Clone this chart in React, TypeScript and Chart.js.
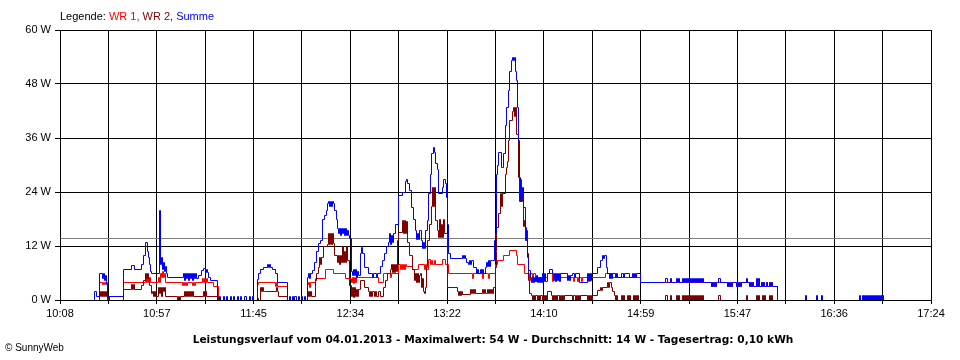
import React, { useEffect, useRef } from 'react';
import { Chart, registerables } from 'chart.js';

Chart.register(...registerables);

// Time axis: minutes after 10:00
const X_MIN = 8; // 10:08
const X_MAX = 444; // 17:24
const X_GRID_INTERVALS = 18;
const X_LABELS = ['10:08', '10:57', '11:45', '12:34', '13:22', '14:10', '14:59', '15:47', '16:36', '17:24'];
const Y_MAX = 60;
const Y_STEP = 12;
const AVERAGE_W = 13.7;

const LEGEND_PARTS: [string, string][] = [
  ['Legende: ', '#000000'],
  ['WR 1,', '#ff0000'],
  [' WR 2,', '#800000'],
  [' Summe', '#0000ff'],
];
const TITLE = 'Leistungsverlauf vom 04.01.2013 - Maximalwert: 54 W - Durchschnitt: 14 W - Tagesertrag: 0,10 kWh';
const COPYRIGHT = '\u00A9 SunnyWeb';

// [minute after 10:00, watts] change points (step series)
const SUMME: [number, number][] = [
  [24.5, 0], [25, 2], [26, 1], [27.5, 6], [29, 5], [29.5, 6], [30, 4.5], [30.5, 5.5], [31, 3.5], [31.5, 1],
  [39.5, 7], [43.5, 7.8], [45, 7], [48.5, 8], [49.5, 10], [50.5, 13], [51.5, 11], [52, 9.5], [52.5, 8], [53, 6.5], [53.5, 6],
  [57.5, 20], [58, 8], [58.5, 9.5], [59, 7], [59.5, 8.5], [60, 6.5], [60.5, 7.5], [61, 6], [61.5, 5.2],
  [69.5, 6], [70, 4.5], [70.5, 6], [71, 5], [71.5, 6], [72, 4.5], [72.5, 6], [73, 5], [73.5, 6], [74, 4.5], [74.5, 6], [75, 5], [75.5, 6], [76, 5],
  [77, 5.5], [78.5, 6.7], [79.5, 7.2], [80.5, 6.2], [81, 7], [81.5, 6.2], [82, 5.2], [83, 4.4],
  [86.5, 0], [87.5, 0.8], [88, 0], [89.5, 0.8], [90, 0], [91, 0.8], [91.5, 0], [93, 0.8], [93.5, 0], [94.5, 0.8], [95, 0], [96.5, 0.8], [97, 0], [98, 0.8], [98.5, 0], [100, 0.8], [101, 0], [102.5, 0.8], [103, 0], [104, 0.8], [104.5, 0],
  [106.5, 4.6], [107, 5.9], [108, 6.9], [109.5, 7.3], [111.5, 8], [112, 7.3], [112.5, 8], [113, 7.3], [114, 6.9], [115.5, 5.9], [116.5, 4.1],
  [121.5, 0], [122.5, 0.9], [123, 0], [124, 0.9], [124.5, 0], [125, 0.9], [126, 0], [127, 0.9], [127.5, 0], [128.5, 0.9], [129, 0], [130, 0.9], [130.5, 0],
  [131.5, 5.2], [132, 6], [132.5, 5], [133, 6], [134, 6.7], [135, 8.5], [136, 11], [137, 12.6], [138, 13.3], [139, 18], [140, 19], [141, 20], [141.5, 21.5], [142, 22], [142.5, 21], [143, 22], [143.5, 21], [144, 22], [144.5, 21.5], [145, 20], [146, 18],
  [146.5, 16], [147, 15], [147.5, 16], [148, 14.5], [148.5, 16], [149, 15], [149.5, 16], [150, 14.5], [150.5, 16], [151, 14.5], [151.5, 15.5], [152, 14.5], [152.5, 13.8],
  [153.5, 6.5], [154, 5.5], [154.5, 7], [155, 5.5], [155.5, 7], [156, 5.2], [156.5, 6.5], [157, 5.5], [158, 10.5], [158.5, 11.8], [159, 10.5], [160, 7.4], [162, 5.9], [164, 5.2], [164.5, 5.9], [166, 5.2], [166.5, 5.9],
  [168, 7.5], [169, 8.9], [170, 10.5], [171, 11.9], [172, 13], [172.5, 15], [173, 12.5], [173.5, 14.5], [174, 13], [174.5, 15], [175.5, 17], [177, 23.3], [179, 24], [180.5, 26.5], [181, 27], [181.5, 26], [182.5, 24.4], [183.5, 20.7], [184.5, 18],
  [185.5, 15.5], [186, 13.5], [186.5, 15], [187, 13.5], [187.5, 15.5], [188.5, 13.3], [189, 11.5], [189.5, 13], [190, 11.5], [190.5, 15.5], [191.5, 17.8], [192, 23.7], [193, 28], [193.5, 32.6], [194.5, 34], [195, 33], [195.5, 30.5], [196.5, 29], [197, 23.7], [199, 25], [199.5, 27], [200.5, 26], [201, 23], [201.5, 17], [202, 10.4], [203, 9.3],
  [209, 10], [209.5, 9.3], [210, 10], [210.5, 9.3], [211, 8.5], [212, 8], [212.5, 9], [213, 8], [213.5, 9], [214.5, 7.4], [216, 5.9], [216.5, 7], [217, 5.9], [218, 7], [218.5, 5.9], [219, 6.8], [219.5, 5.9], [220.5, 7.4], [221, 8.5], [221.5, 7.5], [222, 8.8], [222.5, 7.5], [223, 9], [224, 8.9],
  [225, 13.3], [225.5, 14.8], [226, 23.7], [226.5, 28], [227, 30], [227.5, 33], [229, 29.6], [230, 32.6], [231, 39], [231.5, 43], [232.5, 46.7], [233, 51], [234, 53.3], [234.5, 54], [235, 53.3], [235.5, 54], [236, 51], [236.5, 49], [237, 43], [237.5, 35.6], [238, 27.4], [238.5, 22], [239, 23], [239.5, 25], [240, 20.7], [241, 16.3], [241.5, 13.3], [242, 9.6], [242.5, 6.7], [243.5, 5.2],
  [244, 4], [244.5, 5.2], [245, 4], [245.5, 5.2], [246, 4.2], [246.5, 5.5], [247, 4], [247.5, 5.2], [248, 4], [248.5, 5.2], [249, 4], [249.5, 5.9], [250, 4.2], [250.5, 5.9], [251, 4.2], [252, 5.9], [253, 7], [254.5, 5.9], [255, 4.5], [255.5, 5.9], [256, 4.2], [256.5, 5.9], [257, 4.5], [257.5, 5.9], [258, 4.2], [258.5, 5.9],
  [262, 4.5], [262.5, 5.5], [263, 4.5], [263.5, 5.5], [264.5, 5.9], [265.5, 5.2], [266, 5.9], [268, 4.1], [272, 5.9], [272.5, 4.5], [273, 5.9], [273.5, 4.5], [274, 5.9],
  [277, 7.4], [278.5, 8.9], [279.5, 10], [280, 9.3], [280.5, 10], [281.5, 7.4], [282, 5.9], [283, 5], [283.5, 5.9], [284, 5], [284.5, 5.9], [286, 5.2], [286.5, 5.9], [287, 5.2], [289, 5.9], [290, 5.2], [290.5, 5.9], [293, 5.2], [294.5, 5.9], [295, 5.2], [295.5, 5.9], [296, 5.2], [296.5, 5.9],
  [298.5, 4],
  [311, 5], [312, 4], [313.5, 5], [314, 4], [316.5, 5], [317, 4], [317.5, 5], [318, 4], [319.5, 5], [320, 4], [320.5, 5], [321, 4], [321.5, 5],
  [322, 4], [322.5, 5], [323, 4], [323.5, 5], [324, 4], [324.5, 5], [325, 4], [325.5, 5], [326, 4], [326.5, 5], [327, 4], [327.5, 5], [328, 4], [328.5, 5], [329, 4], [329.5, 5], [330, 4],
  [334, 3.1], [334.5, 4], [335, 3.1], [335.5, 4], [336, 3.1], [336.5, 4], [337.5, 5], [338.5, 4],
  [342, 3.1], [342.5, 4], [343, 3.1], [343.5, 4], [344, 3.1], [344.5, 4], [346.5, 3.1], [347, 4], [347.5, 3.1], [348, 4], [348.5, 3.1], [349, 4],
  [351.5, 5], [352, 4], [353, 3.1], [353.5, 4], [354, 3.1], [354.5, 4], [355, 3.1],
  [356.5, 5], [357, 3.1], [357.5, 5], [358, 3.1], [359, 4], [359.5, 3.1], [360, 4], [360.5, 3.1], [361.5, 4], [362, 3.1], [363, 4], [363.5, 3.1], [364, 4], [364.5, 3.1],
  [367, 0], [381, 1.1], [381.5, 0], [386.5, 1.1], [387, 0], [389, 1.1], [389.5, 0],
  [408, 1.1], [408.5, 0], [409.5, 1.1], [410, 0], [410.5, 1.1], [411, 0], [411.5, 1.1], [412, 0], [412.5, 1.1], [413, 0], [413.5, 1.1], [414, 0], [414.5, 1.1], [415, 0], [415.5, 1.1], [416, 0], [416.5, 1.1], [417, 0], [417.5, 1.1], [418, 0], [418.5, 1.1], [419, 0], [419.5, 1.1], [420, 0],
];

const WR1: [number, number][] = [
  [24.5, 0], [27.5, 4], [29, 3.5], [29.5, 4], [30, 3.5], [30.5, 4], [31.5, 1], [39.5, 4],
  [50.5, 5.2], [51, 4], [51.5, 5.2], [52, 4], [52.5, 5.2], [53, 4],
  [57, 5.2], [57.5, 4], [58, 6], [58.5, 5.2], [59, 6.5], [59.5, 5.2], [60, 6], [60.5, 4],
  [69, 3.3], [69.5, 4], [70, 3.3], [70.5, 4], [71, 3.3], [71.5, 4], [74, 3.3], [74.5, 4], [75, 3.3], [75.5, 4],
  [79, 5], [79.5, 4], [80, 5], [80.5, 4], [81, 5], [81.5, 4], [84.5, 3.1], [87, 0],
  [106.5, 3.5], [107, 4.1], [115.5, 3.1], [116, 4.1], [116.5, 3.1], [121.5, 0],
  [131.5, 3.5], [132, 4], [132.5, 3], [133, 4], [135.5, 5], [140.5, 7], [144.5, 5.9], [150.5, 5],
  [153.5, 4], [154, 5.2], [154.5, 3.7], [155, 5.2], [155.5, 4], [156, 5.2], [167, 4], [169.5, 5.9], [173, 5.2], [173.5, 5.9],
  [177, 8], [178, 7], [178.5, 8], [179, 7], [179.5, 8], [180, 7], [180.5, 8], [181, 7.5], [184, 7], [187, 8], [190, 7], [190.5, 8], [191, 7], [192, 9.1], [193, 8], [193.5, 9], [194, 8], [195, 9], [195.5, 8], [199, 9.1], [200.5, 8], [202, 5.9],
  [214, 5], [214.5, 5.9], [219, 5], [219.5, 5.9], [222, 5], [222.5, 5.9],
  [225.5, 8], [227, 9], [230, 10], [233, 11.1], [236.5, 10], [237, 8], [240.5, 5.9],
  [243, 4.5], [243.5, 5.9], [244.5, 4.2], [245, 5.9], [246, 4.2], [246.5, 5.2], [247.5, 4.2], [248, 5.2], [249, 4.2], [249.5, 5.2], [252, 5.9], [254.5, 4.2], [255, 5.2],
  [265, 4.2], [265.5, 5.2], [267, 4.2], [267.5, 5.2], [269, 4.2], [269.5, 5.2], [272, 4.2], [272.5, 5.2], [273, 4.2], [273.5, 5.2],
  [281, 5.9], [284.5, 5.2], [298.5, 4],
  [334, 3.1], [334.5, 4], [335, 3.1], [335.5, 4], [336, 3.1], [336.5, 4],
  [342, 3.1], [342.5, 4], [343, 3.1], [343.5, 4], [344, 3.1], [344.5, 4], [346.5, 3.1], [347, 4], [347.5, 3.1], [348, 4], [348.5, 3.1], [349, 4],
  [353, 3.1], [353.5, 4], [354, 3.1], [354.5, 4], [355, 3.1], [359, 4], [359.5, 3.1], [360, 4], [360.5, 3.1], [361.5, 4], [362, 3.1], [363, 4], [363.5, 3.1], [364, 4], [364.5, 3.1],
  [367, 0],
];

const WR2: [number, number][] = [
  [24.5, 0], [27.5, 2], [28, 1], [28.5, 2], [29, 1], [29.5, 2], [30, 1], [30.5, 2], [31, 1], [31.5, 0], [32, 1], [32.5, 0],
  [39.5, 2.4], [43.5, 3.5], [44, 2.4], [44.5, 3.5], [45, 2.4], [48.5, 3.3], [49.5, 4.5], [50.5, 6], [51, 5], [51.5, 6], [52, 5], [52.5, 3.3], [53.5, 1.5], [54, 2], [54.5, 1], [55, 2], [55.5, 1],
  [57, 3], [57.5, 1.5], [58, 3], [58.5, 1], [59, 3], [59.5, 2], [60, 3], [60.5, 1],
  [66.5, 0], [67, 1], [67.5, 0], [68, 1], [70, 2], [70.5, 1], [71, 2], [71.5, 1], [72, 2], [72.5, 1], [73, 2], [73.5, 1], [74, 2], [74.5, 1],
  [79.5, 2], [80, 1], [80.5, 2], [81, 1], [87, 0],
  [106.5, 0.5], [107, 0], [108, 3], [108.5, 2], [109, 3], [109.5, 2], [110, 1.9], [116, 3], [116.5, 2], [117, 0.9], [121.5, 0],
  [131.5, 1], [132, 2], [132.5, 1], [133, 2], [133.5, 1], [135.5, 4.5], [136, 6], [137, 7.4], [137.5, 9.6], [138, 8], [138.5, 9.6], [139.5, 11.9], [141.5, 12.5], [142, 15], [142.5, 12.5], [143, 15], [143.5, 12.5], [144, 15], [144.5, 12.6], [145, 10],
  [146.5, 8.5], [147, 10], [147.5, 8], [148, 10], [148.5, 8.5], [149, 12], [149.5, 8.5], [150, 11], [150.5, 8.5], [151, 12], [151.5, 9], [152.5, 3.3],
  [153.5, 1], [154, 3], [154.5, 0.7], [155, 3], [155.5, 1], [156, 2.5], [156.5, 1], [157, 2.5], [158, 4.4], [160, 3], [162, 1.9], [162.5, 1], [163, 1.9], [163.5, 1], [164, 1.9], [165, 1], [165.5, 1.9], [166, 1], [167, 1.9], [168, 1], [169.5, 3], [170.5, 4.4], [171.5, 5.9],
  [173, 7], [173.5, 8.1], [174, 6.3], [174.5, 8.1], [175, 6.3], [175.5, 8], [176, 6.5], [176.5, 13.3], [177, 15.2], [179, 17.8], [179.5, 15], [180, 17.8], [180.5, 15], [181, 17.5], [181.5, 13], [182.5, 10], [184, 7], [185, 4.5], [185.5, 6], [186, 4], [186.5, 6], [187, 4], [187.5, 5.5], [188, 6], [188.5, 3], [189, 5], [189.5, 2], [190, 1.5], [190.5, 3],
  [191, 7.4], [191.5, 13.3], [192.5, 17], [193.5, 21], [194, 25], [194.5, 21], [195, 25.2], [195.5, 17.8], [196.5, 15.6], [197, 14], [197.5, 18], [198, 14], [198.5, 17], [199, 14], [199.5, 18], [200, 14.8], [201.5, 3],
  [206.5, 1.9], [207, 1.1], [207.5, 1.9], [208, 1.1], [208.5, 1.9], [209, 1.3], [213, 2.5], [213.5, 1.5], [214, 2.5], [214.5, 1.5], [215, 2.5], [215.5, 1.5], [219, 2.5], [219.5, 1.5], [220, 2.5], [220.5, 1.5], [221.5, 2.5], [222, 1.5], [222.5, 2.5], [223, 1.5], [223.5, 2.5], [224, 1.5], [224.5, 2.8],
  [225.5, 7.4], [226, 11], [226.5, 16.3], [227.5, 19.3], [228.5, 23.7], [229, 21], [229.5, 23.7], [231, 28], [231.5, 29.6], [232, 31], [232.5, 35.6], [233, 40], [234.5, 42], [235, 43], [235.5, 41], [236, 43], [236.5, 37], [237.5, 27.4], [238, 22], [238.5, 27], [239, 22], [239.5, 24], [240, 16.5], [240.5, 17.8], [241, 13.3], [241.5, 15.6], [242, 10.4], [242.5, 4.4], [243, 1.5],
  [244, 1.1], [244.5, 0], [245, 1.1], [245.5, 0], [246, 1.1], [247, 0], [247.5, 1.1], [248, 0], [248.5, 1.1], [249.5, 0], [250, 1.1], [250.5, 0], [251, 1.1], [251.5, 0], [252, 1.9], [254, 1.1], [254.5, 0], [255, 1.1], [255.5, 0], [256, 1.1], [256.5, 0], [257, 1.1], [258, 0], [258.5, 1.1], [259, 0], [259.5, 1.1], [260, 0], [260.5, 1.1],
  [264.5, 0], [265, 1.1], [266, 0], [266.5, 1.1], [267, 0], [267.5, 1.1], [268, 0], [268.5, 1.1], [272, 0], [272.5, 1.1], [273, 0], [273.5, 1.1], [274, 0], [274.5, 1.1],
  [277, 2.2], [278.5, 3], [279, 2.2], [279.5, 3], [282, 4], [282.5, 3], [283, 4], [284, 3], [284.5, 1.9], [285.5, 1.1], [286, 0], [286.5, 1.1], [287, 0], [289, 1.1], [289.5, 0], [290, 1.1], [290.5, 0], [292, 1.1], [292.5, 0], [293, 1.1], [293.5, 0], [295, 1.1], [295.5, 0], [296, 1.1], [296.5, 0], [297, 1.1], [297.5, 0],
  [311, 1.1], [312, 0], [313.5, 1.1], [314, 0], [316.5, 1.1], [317, 0], [317.5, 1.1], [318, 0], [319.5, 1.1], [320, 0], [320.5, 1.1], [321, 0], [321.5, 1.1],
  [322, 0], [322.5, 1.1], [323, 0], [323.5, 1.1], [324, 0], [324.5, 1.1], [325, 0], [325.5, 1.1], [326, 0], [326.5, 1.1], [327, 0], [327.5, 1.1], [328, 0], [328.5, 1.1], [329, 0], [329.5, 1.1], [330, 0],
  [337.5, 1.1], [338.5, 0], [351.5, 1.1], [352, 0], [356.5, 1.1], [357, 0], [357.5, 1.1], [358, 0], [359.5, 1.1], [360, 0], [360.5, 1.1], [361, 0], [363, 1.1], [363.5, 0], [364, 1.1], [364.5, 0], [367, 0],
];

const FONT = '"Liberation Sans", Arial, sans-serif';
const TITLE_FONT = 'bold 10.6px "DejaVu Sans", Verdana, sans-serif';

export default function App() {
  const ref = useRef<HTMLCanvasElement>(null);

  useEffect(() => {
    const canvas = ref.current;
    if (!canvas) return;
    const toPts = (a: [number, number][]) => a.map(([x, y]) => ({ x, y }));

    const snap = {
      id: 'snapPixels',
      afterDatasetsUpdate(chart: any) {
        chart.data.datasets.forEach((_: any, i: number) => {
          const meta = chart.getDatasetMeta(i);
          meta.data.forEach((p: any) => {
            p.x = Math.round(p.x) + 0.5;
            p.y = Math.round(p.y) + 0.5;
          });
        });
      },
    };

    const overlay = {
      id: 'overlay',
      afterDatasetsDraw(chart: any) {
        const { ctx, chartArea } = chart;
        const y0 = Math.round(chart.scales.y.getPixelForValue(0)) + 0.5;
        ctx.save();
        ctx.strokeStyle = '#000';
        ctx.lineWidth = 1;
        ctx.beginPath();
        ctx.moveTo(chartArea.left, y0);
        ctx.lineTo(chartArea.right + 1, y0);
        ctx.stroke();
        ctx.restore();
      },
      afterDraw(chart: any) {
        const { ctx } = chart;
        ctx.save();
        ctx.textBaseline = 'middle';
        ctx.font = `11px ${FONT}`;
        let x = chart.chartArea.left;
        LEGEND_PARTS.forEach(([t, c]) => {
          ctx.fillStyle = c;
          ctx.textAlign = 'left';
          ctx.fillText(t, x, 17);
          x += ctx.measureText(t).width;
        });
        ctx.font = TITLE_FONT;
        ctx.fillStyle = '#000';
        ctx.textAlign = 'center';
        ctx.fillText(TITLE, 493, 340);
        ctx.font = `10px ${FONT}`;
        ctx.textAlign = 'left';
        ctx.fillText(COPYRIGHT, 5, 348);
        ctx.restore();
      },
    };

    const common = { stepped: true, borderWidth: 1, pointRadius: 0, fill: false, tension: 0 };

    const chart = new Chart(canvas, {
      type: 'line',
      data: {
        datasets: [
          { ...common, label: 'Summe', data: toPts(SUMME), borderColor: '#0000ff', order: 1 },
          { ...common, label: 'WR 2', data: toPts(WR2), borderColor: '#800000', order: 2 },
          { ...common, label: 'WR 1', data: toPts(WR1), borderColor: '#ff0000', order: 3 },
          { ...common, stepped: false, label: 'Durchschnitt', data: [{ x: X_MIN, y: AVERAGE_W }, { x: X_MAX, y: AVERAGE_W }], borderColor: '#808080', order: 4 },
        ] as any,
      },
      options: {
        responsive: false,
        maintainAspectRatio: false,
        animation: false,
        events: [],
        layout: { padding: { left: 0, top: 30, right: 29, bottom: 0 } },
        plugins: { legend: { display: false }, tooltip: { enabled: false }, title: { display: false } },
        scales: {
          x: {
            type: 'linear',
            min: X_MIN,
            max: X_MAX,
            afterBuildTicks: (s: any) => {
              const step = (X_MAX - X_MIN) / X_GRID_INTERVALS;
              s.ticks = Array.from({ length: X_GRID_INTERVALS + 1 }, (_, i) => ({ value: X_MIN + i * step }));
            },
            afterFit: (s: any) => { s.height = 60; },
            grid: { color: '#000', lineWidth: 1, tickLength: 4, drawTicks: true },
            border: { color: '#000', width: 1 },
            ticks: {
              autoSkip: false,
              maxRotation: 0,
              minRotation: 0,
              padding: 3,
              color: '#000',
              font: { size: 11, family: FONT },
              callback: (_v: any, i: number) => (i % 2 === 0 ? X_LABELS[i / 2] : ''),
            },
          },
          y: {
            type: 'linear',
            min: 0,
            max: Y_MAX,
            afterBuildTicks: (s: any) => {
              const t = [];
              for (let v = 0; v <= Y_MAX; v += Y_STEP) t.push({ value: v });
              s.ticks = t;
            },
            afterFit: (s: any) => { s.width = 60; },
            grid: { color: '#000', lineWidth: 1, tickLength: 5, drawTicks: true },
            border: { color: '#000', width: 1 },
            ticks: {
              padding: 4,
              color: '#000',
              font: { size: 11, family: FONT },
              callback: (v: any) => `${v} W`,
            },
          },
        },
      } as any,
      plugins: [snap, overlay],
    });
    return () => chart.destroy();
  }, []);

  return (
    <div style={{ position: 'absolute', left: 0, top: 0, width: 960, height: 360, background: '#fff' }}>
      <canvas ref={ref} width={960} height={360} style={{ display: 'block', width: 960, height: 360 }} />
    </div>
  );
}
